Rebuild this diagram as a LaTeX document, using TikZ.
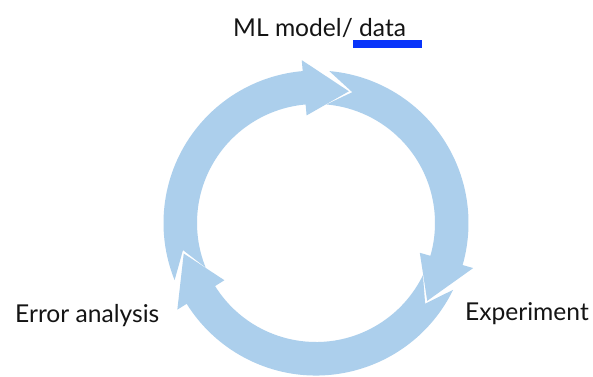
\documentclass[tikz,border=0pt]{standalone}
\usepackage{fontspec}
\setmainfont{Lato}
\definecolor{cyclefill}{RGB}{172,207,236}
\definecolor{markblue}{RGB}{8,52,250}
\definecolor{labeltext}{RGB}{20,20,20}
% ring radii
\def\Rin{119pt}
\def\Rout{152.5pt}
\def\Rmid{135.75pt}
\def\Rhin{108pt}
\def\Rhout{163.5pt}
\tikzset{
  lbl/.style={font=\fontsize{24.6}{28}\selectfont, text=labeltext, inner sep=0pt, anchor=base west},
  % one curved arrow of the cycle: #1 = tail angle, #2 = tip angle (runs clockwise)
  pics/cyclearrow/.style 2 args={code={
    \fill[cyclefill]
      (#1:\Rout) arc[start angle=#1, end angle={#2+19}, radius=\Rout]
      -- ({#2+19}:\Rhout) -- (#2:\Rmid) -- ({#2+19}:\Rhin)
      -- ({#2+19}:\Rin) arc[start angle={#2+19}, end angle=#1, radius=\Rin]
      -- ({#1-10.5}:\Rmid) -- cycle;
  }}
}
\begin{document}
\begin{tikzpicture}[x=1pt, y=1pt]
  \useasboundingbox (0,0) rectangle (593,376);
  \fill[white] (0,0) rectangle (593,376);

  \coordinate (hub) at (316,153);
  \pic at (hub) {cyclearrow={202}{76}};
  \pic at (hub) {cyclearrow={85}{-35}};
  \pic at (hub) {cyclearrow={334}{193}};

  \node[lbl] (model) at (233,340) {ML model/ data};
  \node[lbl] (error) at (15,54) {Error analysis};
  \node[lbl, anchor=base east] (experiment) at (589,56) {Experiment};

  \fill[markblue] (353,336) rectangle (422,328.5);
\end{tikzpicture}
\end{document}
